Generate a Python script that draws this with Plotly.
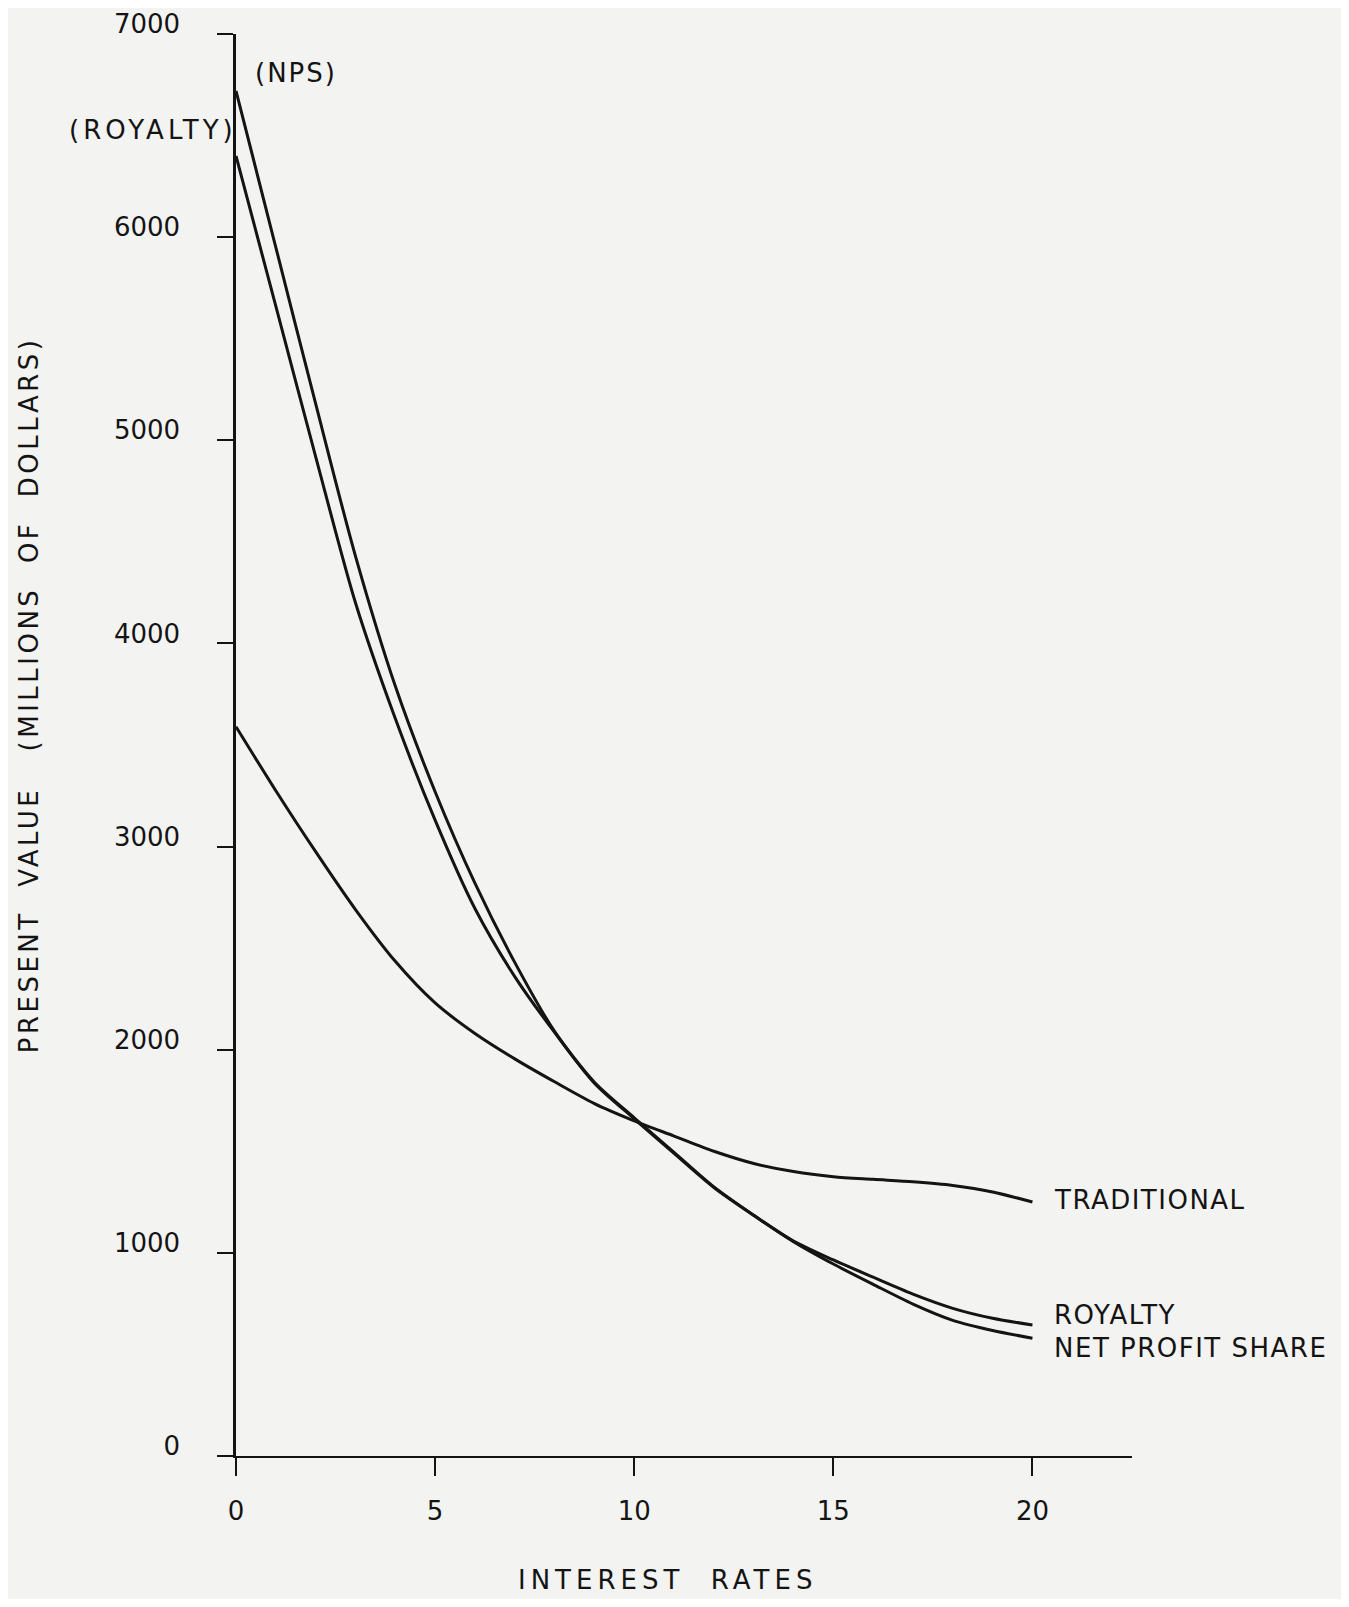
import plotly.graph_objects as go

# Interest rates (percent)
rates = list(range(0, 21))

# Present value (millions of dollars)
nps = [6720, 5950, 5180, 4430, 3790, 3270, 2820, 2430, 2090, 1840, 1665,
       1495, 1325, 1185, 1055, 945, 845, 748, 668, 618, 580]
royalty = [6400, 5660, 4920, 4200, 3630, 3130, 2695, 2360, 2085, 1835, 1660,
           1490, 1322, 1185, 1058, 965, 880, 797, 727, 678, 645]
traditional = [3590, 3275, 2975, 2690, 2435, 2230, 2080, 1955, 1842, 1735, 1650,
               1575, 1500, 1440, 1400, 1375, 1362, 1350, 1332, 1300, 1250]

x_ticks = [0, 5, 10, 15, 20]
y_ticks = [0, 1000, 2000, 3000, 4000, 5000, 6000, 7000]

FONT = "DejaVu Sans"
INK = "#141414"
PAPER = "#f3f3f2"


def spaced(text, px):
    return f'<span style="letter-spacing:{px}px">{text}</span>'


fig = go.Figure()
for name, vals in [("NET PROFIT SHARE", nps), ("ROYALTY", royalty), ("TRADITIONAL", traditional)]:
    fig.add_trace(go.Scatter(
        x=rates, y=vals, mode="lines", name=name,
        line=dict(color=INK, width=3, shape="spline", smoothing=0.8),
        cliponaxis=False, showlegend=False,
    ))

# end-of-line labels
end_labels = [("TRADITIONAL", traditional[-1] + 10), ("ROYALTY", royalty[-1] + 50),
              ("NET PROFIT SHARE", nps[-1] - 50)]
for text, yv in end_labels:
    fig.add_annotation(x=20.5, y=yv, xref="x", yref="y", text=spaced(text, 1.5), showarrow=False,
                       xanchor="left", yanchor="middle",
                       font=dict(family=FONT, size=26, color=INK))

# start labels
fig.add_annotation(x=0.42, y=6810, xref="x", yref="y", text=spaced("(NPS)", 2), showarrow=False,
                   xanchor="left", yanchor="middle", font=dict(family=FONT, size=26, color=INK))
fig.add_annotation(x=0.003, y=6525, xref="paper", yref="y", text=spaced("(ROYALTY)", 4),
                   showarrow=False, xanchor="right", yanchor="middle",
                   font=dict(family=FONT, size=26, color=INK))

# axis titles
fig.add_annotation(x=-0.231, y=0.535, xref="paper", yref="paper",
                   text=spaced("PRESENT  VALUE   (MILLIONS  OF  DOLLARS)", 3.5), textangle=-90,
                   showarrow=False, xanchor="center", yanchor="middle",
                   font=dict(family=FONT, size=26, color=INK))
fig.add_annotation(x=0.482, y=-0.0875, xref="paper", yref="paper",
                   text=spaced("INTEREST  RATES", 5), showarrow=False,
                   xanchor="center", yanchor="middle",
                   font=dict(family=FONT, size=26, color=INK))

fig.update_layout(
    width=1333, height=1591,
    margin=dict(l=228, r=209, t=26, b=143, pad=0),
    paper_bgcolor=PAPER, plot_bgcolor=PAPER,
    font=dict(family=FONT, size=26, color=INK),
    xaxis=dict(range=[0, 22.5], tickvals=x_ticks, ticktext=[str(v) for v in x_ticks],
               showgrid=False, zeroline=False, showline=True, linecolor=INK, linewidth=2,
               ticks="outside", ticklen=18, tickwidth=2, tickcolor=INK, automargin=False,
               tickfont=dict(family=FONT, size=26, color=INK), ticklabelstandoff=13),
    yaxis=dict(range=[0, 7000], tickvals=y_ticks, ticktext=[str(v) for v in y_ticks],
               showgrid=False, zeroline=False, showline=True, linecolor=INK, linewidth=2.5,
               ticks="outside", ticklen=16, tickwidth=2, tickcolor=INK, automargin=False,
               tickfont=dict(family=FONT, size=26, color=INK), ticklabelstandoff=32,
               ticklabelshift=-10),
)

fig.write_html("out.html")
